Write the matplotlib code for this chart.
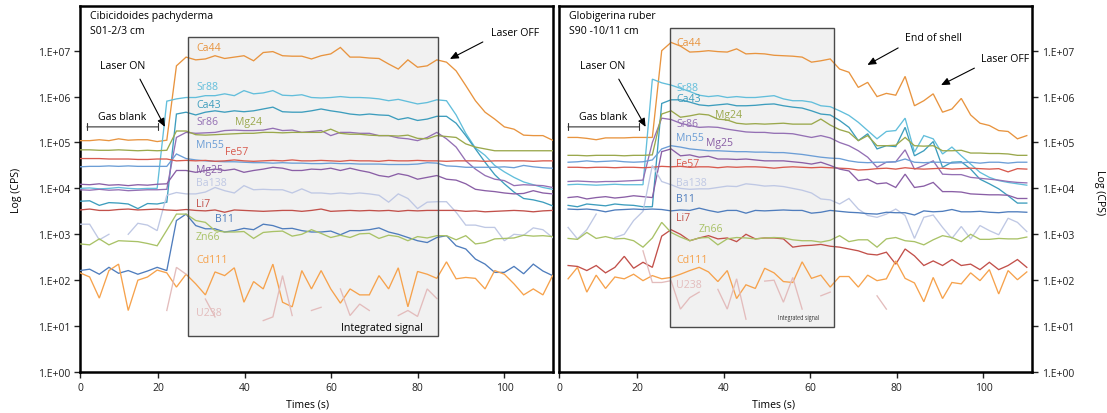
import numpy as np
import matplotlib
matplotlib.use("Agg")
import matplotlib.pyplot as plt
from matplotlib.patches import Rectangle
from matplotlib.ticker import FixedLocator, NullLocator

plt.rcParams['font.family'] = ['Open Sans', 'DejaVu Sans']

nan = np.nan

# ---------------- data (log10 of counts per second) ----------------
T_LEFT = np.linspace(2.0, 111.1, 50)     # acquisition times, left sample (s)
T_RIGHT = np.linspace(4.1, 110.0, 50)    # acquisition times, right sample (s)

# Cibicidoides pachyderma  S01-2/3 cm
L_CA44 = [5.04,5.04,5.06,5.04,5.08,5.05,5.06,5.06,5.02,5.05, 6.67,6.86,6.80,6.82,6.89,6.83,6.86,6.89,6.78,6.96,
          6.98,6.89,6.88,6.88,6.82,6.89,6.93,7.07,6.86,6.86, 6.84,6.83,6.71,6.60,6.80,6.64,6.67,6.80,6.75,6.56,
          6.24,5.91,5.66,5.51,5.34,5.29,5.16,5.15,5.15,5.05]
L_SR88 = [4.00,4.01,3.99,4.00,4.02,4.00,3.99,4.00,4.00,5.90, 5.95,5.98,5.98,6.02,6.02,6.06,6.02,6.13,6.06,6.08,
          6.13,6.03,6.02,6.04,5.98,5.97,5.98,6.00,5.98,5.98, 5.97,5.95,5.91,5.94,5.89,5.84,5.87,5.93,5.91,5.60,
          5.20,4.88,4.72,4.50,4.36,4.24,4.14,4.08,4.02,3.98]
L_CA43 = [3.72,3.73,3.63,3.69,3.68,3.66,3.56,3.67,3.66,3.70, 5.62,5.66,5.60,5.66,5.69,5.66,5.69,5.67,5.69,5.73,
          5.77,5.67,5.66,5.66,5.69,5.73,5.69,5.66,5.62,5.60, 5.62,5.60,5.59,5.50,5.54,5.48,5.51,5.57,5.57,5.42,
          5.15,4.86,4.57,4.30,4.10,3.92,3.78,3.75,3.70,3.62]
L_SR86 = [3.97,3.96,3.98,3.96,3.97,3.95,3.96,3.97,3.97,3.98, 5.11,5.22,5.20,5.21,5.22,5.26,5.27,5.26,5.26,5.27,
          5.31,5.26,5.27,5.22,5.24,5.26,5.15,5.22,5.22,5.20, 5.20,5.15,5.15,5.10,5.08,5.04,5.11,5.22,5.08,4.90,
          4.60,4.42,4.28,4.20,4.17,4.06,4.08,4.07,4.06,4.02]
L_MG24 = [4.84,4.84,4.83,4.83,4.84,4.83,4.82,4.83,4.82,4.83, 5.25,5.25,5.17,5.16,5.17,5.18,5.19,5.20,5.20,5.22,
          5.22,5.21,5.22,5.22,5.22,5.22,5.29,5.20,5.18,5.18, 5.16,5.15,5.15,5.14,5.16,5.09,5.08,5.15,5.13,5.11,
          4.97,4.90,4.86,4.82,4.82,4.82,4.82,4.82,4.82,4.82]
L_MN55 = [4.47,4.48,4.48,4.49,4.48,4.49,4.48,4.48,4.48,4.48, 4.75,4.65,4.62,4.60,4.59,4.58,4.58,4.57,4.56,4.56,
          4.55,4.56,4.55,4.55,4.54,4.54,4.55,4.54,4.54,4.53, 4.53,4.53,4.52,4.52,4.52,4.53,4.56,4.55,4.49,4.48,
          4.46,4.46,4.46,4.46,4.47,4.45,4.50,4.47,4.45,4.44]
L_FE57 = [4.65,4.65,4.65,4.64,4.64,4.64,4.63,4.63,4.64,4.64, 4.60,4.61,4.60,4.61,4.59,4.60,4.62,4.60,4.59,4.60,
          4.61,4.60,4.62,4.60,4.60,4.61,4.60,4.59,4.61,4.60, 4.60,4.59,4.61,4.60,4.60,4.61,4.60,4.60,4.59,4.60,
          4.60,4.60,4.59,4.60,4.60,4.60,4.60,4.59,4.60,4.60]
L_MG25 = [4.09,4.08,4.10,4.07,4.08,4.06,4.08,4.07,4.09,4.10, 4.39,4.39,4.35,4.39,4.42,4.39,4.42,4.35,4.39,4.42,
          4.46,4.44,4.39,4.39,4.42,4.41,4.44,4.39,4.44,4.39, 4.35,4.28,4.25,4.32,4.28,4.20,4.24,4.28,4.20,4.18,
          4.10,3.98,3.95,3.93,3.90,3.88,3.89,3.95,3.90,3.88]
L_BA138 = [3.22,3.22,2.88,3.00,nan,3.00,3.24,3.20,3.08,3.85, 3.91,3.88,3.88,3.92,4.02,3.95,3.90,4.06,3.97,3.98,
           3.97,3.97,3.90,3.99,3.90,3.90,3.88,3.90,3.88,3.90, 3.88,3.85,3.70,3.88,3.78,3.56,3.70,3.71,3.71,3.48,
           3.20,3.20,3.15,3.15,2.86,3.00,2.98,3.14,3.10,2.93]
L_LI7 = [3.53,3.55,3.52,3.52,3.54,3.55,3.53,3.54,3.55,3.53, 3.52,3.54,3.52,3.51,3.53,3.48,3.53,3.52,3.51,3.50,
         3.51,3.52,3.52,3.50,3.52,3.55,3.50,3.51,3.52,3.51, 3.52,3.51,3.52,3.50,3.52,3.51,3.52,3.52,3.52,3.52,
         3.50,3.51,3.49,3.50,3.51,3.52,3.51,3.49,3.51,3.52]
L_B11 = [2.21,2.24,2.13,2.28,2.15,2.21,2.13,2.20,2.28,2.21, 3.30,3.44,3.19,3.12,3.12,3.05,3.08,3.13,3.10,3.22,
         3.19,3.12,3.13,3.08,3.05,3.05,3.07,2.99,3.08,3.08, 3.10,3.14,3.05,3.00,2.93,2.86,2.82,2.93,2.97,2.75,
         2.68,2.46,2.35,2.17,2.17,2.30,2.14,2.35,2.20,2.10]
L_ZN66 = [2.79,2.77,2.90,2.77,2.86,2.85,2.84,2.80,2.75,3.09, 3.44,3.44,3.30,3.26,3.08,3.05,3.05,3.06,2.91,3.04,
          3.06,3.07,2.96,3.00,3.10,3.02,2.93,2.98,2.93,3.01, 3.02,2.91,2.98,2.95,2.86,2.95,2.92,2.97,2.97,2.88,
          2.97,2.79,2.82,2.90,2.91,2.92,2.98,2.96,2.97,2.95]
L_CD111 = [2.16,2.07,1.61,2.21,2.35,1.34,2.00,2.07,2.22,2.16, 1.85,2.13,1.92,1.68,2.18,2.10,2.27,1.52,1.97,1.81,
           2.35,1.52,1.42,2.21,1.81,2.21,1.81,1.50,1.81,1.68, 1.68,2.10,1.81,2.27,1.42,2.19,2.13,2.04,2.40,2.03,
           2.06,2.04,1.81,2.21,2.13,1.92,1.68,1.81,1.68,2.10]
L_U238 = [nan,nan,nan,nan,nan,nan,nan,nan,nan,1.34, 2.28,2.13,nan,1.59,1.20,nan,nan,nan,nan,1.12,
          1.20,2.10,1.23,nan,1.34,1.41,nan,1.81,1.23,1.48, 1.34,nan,nan,1.23,1.34,1.21,1.81,1.60,nan,nan,
          nan,nan,nan,nan,nan,nan,nan,nan,nan,nan]

# Globigerina ruber  S90 -10/11 cm
R_CA44 = [5.11,5.11,5.09,5.06,5.10,5.10,5.10,5.11,5.11,5.11, 7.00,7.18,7.10,6.97,6.98,7.00,6.98,6.97,7.04,6.93,
          6.94,6.93,6.90,6.89,6.88,6.86,6.75,6.78,6.82,6.60, 6.53,6.20,6.31,6.00,6.07,6.03,6.44,5.80,5.91,6.06,
          5.66,5.73,5.96,5.60,5.42,5.37,5.26,5.24,5.08,5.15]
R_SR88 = [4.08,4.09,4.08,4.07,4.08,4.09,4.08,4.08,4.08,6.38, 6.30,6.25,6.18,6.11,6.03,6.00,6.02,5.98,6.00,5.98,
          5.98,6.00,6.02,5.95,5.91,5.91,5.88,5.80,5.78,5.69, 5.59,5.44,5.26,5.08,5.24,5.26,5.53,4.79,5.15,5.08,
          4.75,4.90,4.71,4.53,4.35,4.24,4.17,4.13,4.10,4.07]
R_CA43 = [3.63,3.60,3.66,3.64,3.62,3.66,3.64,3.63,3.60,3.60, 5.85,5.93,5.93,5.88,5.82,5.80,5.82,5.84,5.80,5.80,
          5.81,5.83,5.84,5.80,5.77,5.75,5.69,5.62,5.60,5.48, 5.33,5.04,5.19,4.86,4.93,4.91,5.33,4.71,4.82,5.02,
          4.46,4.57,4.58,4.42,4.20,4.10,3.99,3.84,3.68,3.68]
R_SR86 = [4.15,4.16,4.15,4.14,4.15,4.15,4.16,4.17,4.18,5.00, 5.53,5.50,5.42,5.37,5.33,5.34,5.33,5.29,5.26,5.23,
          5.22,5.22,5.20,5.20,5.19,5.15,5.11,5.15,5.10,5.00, 4.93,4.82,4.68,4.46,4.57,4.58,4.84,4.42,4.50,4.60,
          4.31,4.30,4.30,4.24,4.22,4.20,4.18,4.15,4.13,4.12]
R_MG24 = [4.72,4.72,4.71,4.72,4.72,4.72,4.71,4.72,4.72,4.73, 5.62,5.69,5.55,5.58,5.62,5.60,5.51,5.49,5.42,5.40,
          5.41,5.40,5.41,5.42,5.40,5.40,5.40,5.51,5.38,5.28, 5.22,5.04,5.15,4.93,4.93,4.94,5.11,4.93,4.92,4.93,
          4.82,4.82,4.83,4.77,4.77,4.76,4.76,4.75,4.72,4.72]
R_MN55 = [4.57,4.58,4.60,4.58,4.59,4.60,4.58,4.57,4.58,4.62, 4.86,4.93,4.90,4.86,4.84,4.82,4.82,4.81,4.80,4.80,
          4.79,4.79,4.78,4.78,4.76,4.74,4.71,4.68,4.66,4.65, 4.60,4.57,4.56,4.57,4.57,4.58,4.64,4.57,4.56,4.57,
          4.57,4.55,4.56,4.57,4.55,4.57,4.57,4.55,4.57,4.57]
R_FE57 = [4.46,4.46,4.45,4.46,4.46,4.45,4.46,4.46,4.45,4.46, 4.48,4.47,4.48,4.46,4.47,4.47,4.45,4.47,4.46,4.47,
          4.47,4.46,4.44,4.46,4.47,4.46,4.45,4.46,4.45,4.44, 4.43,4.40,4.41,4.43,4.44,4.42,4.45,4.43,4.42,4.43,
          4.44,4.42,4.43,4.44,4.43,4.42,4.43,4.36,4.43,4.42]
R_MG25 = [3.80,3.82,3.77,3.80,3.82,3.79,3.81,3.84,3.82,3.80, 4.80,4.86,4.71,4.73,4.68,4.70,4.64,4.64,4.63,4.64,
          4.62,4.60,4.60,4.60,4.58,4.56,4.53,4.57,4.50,4.42, 4.38,4.17,4.20,4.10,4.12,4.02,4.31,4.02,4.05,4.13,
          3.93,3.93,3.92,3.88,3.87,3.86,3.86,3.85,3.78,3.78]
R_BA138 = [3.15,2.90,3.10,3.44,nan,2.93,3.00,3.30,3.50,4.50, 4.15,4.08,4.00,3.98,3.99,3.99,4.02,4.05,4.04,4.10,
           4.08,4.05,4.06,4.04,4.00,3.96,3.90,3.77,3.75,3.66, 3.78,3.55,3.41,3.37,3.44,3.55,3.41,2.91,3.37,3.42,
           3.15,2.91,3.17,2.90,3.19,3.08,2.99,3.35,3.26,3.06]
R_LI7 = [2.32,2.30,2.21,2.32,2.16,2.28,2.52,2.26,2.39,2.28, 2.96,3.10,3.00,2.86,2.92,2.97,2.90,2.92,2.84,3.00,
         2.90,2.92,2.92,2.90,2.72,2.75,2.76,2.78,2.74,2.72, 2.68,2.64,2.57,2.55,2.61,2.35,2.68,2.53,2.32,2.42,
         2.32,2.45,2.32,2.35,2.23,2.39,2.23,2.32,2.45,2.28]
R_B11 = [3.55,3.54,3.55,3.53,3.49,3.53,3.54,3.55,3.54,3.55, 3.54,3.51,3.53,3.52,3.57,3.52,3.48,3.52,3.52,3.46,
         3.52,3.51,3.52,3.53,3.52,3.52,3.46,3.48,3.52,3.50, 3.48,3.47,3.45,3.44,3.48,3.47,3.47,3.42,3.51,3.49,
         3.50,3.54,3.49,3.49,3.50,3.48,3.47,3.49,3.49,3.48]
R_ZN66 = [2.91,2.89,3.04,2.91,2.95,2.90,2.91,2.86,2.72,2.92, 3.26,3.04,2.94,2.86,2.92,2.93,2.77,2.90,2.93,2.92,
          2.90,2.92,2.93,2.92,2.88,2.86,2.86,2.83,2.87,2.97, 2.84,2.88,2.88,2.72,2.90,2.93,2.86,2.84,2.77,2.88,
          2.97,2.93,2.84,3.00,2.89,2.89,2.91,2.90,2.90,2.94]
R_CD111 = [2.03,2.28,1.74,2.11,1.82,2.07,2.03,2.13,1.99,2.10, 2.03,2.06,2.13,2.21,2.28,2.18,1.97,2.21,1.60,1.90,
           1.82,2.26,2.16,1.97,1.95,2.40,2.04,2.11,1.85,2.08, 2.08,1.85,2.11,1.99,2.03,2.42,2.04,1.94,1.53,2.06,
           1.60,1.95,1.92,2.16,1.99,2.23,1.70,2.21,2.01,2.18]
R_U238 = [nan,nan,nan,nan,nan,nan,nan,nan,2.64,1.95, 1.95,1.99,1.37,1.62,1.74,nan,1.80,1.37,2.03,1.15,
          nan,1.98,2.00,1.52,2.06,1.37,nan,1.66,1.74,nan, nan,nan,nan,1.66,1.37,nan,nan,nan,nan,nan,
          nan,nan,nan,nan,nan,nan,nan,nan,nan,nan]

ISOTOPES = ['Ca44', 'Sr88', 'Ca43', 'Sr86', 'Mg24', 'Mn55', 'Fe57', 'Mg25',
            'Ba138', 'Li7', 'B11', 'Zn66', 'Cd111', 'U238']
LEFT_SERIES = [L_CA44, L_SR88, L_CA43, L_SR86, L_MG24, L_MN55, L_FE57, L_MG25,
               L_BA138, L_LI7, L_B11, L_ZN66, L_CD111, L_U238]
RIGHT_SERIES = [R_CA44, R_SR88, R_CA43, R_SR86, R_MG24, R_MN55, R_FE57, R_MG25,
                R_BA138, R_LI7, R_B11, R_ZN66, R_CD111, R_U238]
X_TICKS = [0, 20, 40, 60, 80, 100]
Y_TICK_LABELS = ['1.E+00', '1.E+01', '1.E+02', '1.E+03', '1.E+04', '1.E+05', '1.E+06', '1.E+07']

# ---------------- styles / layout ----------------
COLORS = {
    'Ca44': '#e8943f', 'Sr88': '#62bedb', 'Ca43': '#3d9dbd', 'Sr86': '#9470b4',
    'Mg24': '#9aa84c', 'Mn55': '#6c9ed6', 'Fe57': '#d85a4e', 'Mg25': '#8a5fa6',
    'Ba138': '#bfc8e4', 'Li7': '#c2504a', 'B11': '#4f7dbd', 'Zn66': '#a9c267',
    'Cd111': '#f6a24c', 'U238': '#e3bcbc',
}
# label anchor positions (time, log10 CPS)
LEFT_LABEL_POS = {
    'Ca44': (28.8, 7.07), 'Sr88': (28.8, 6.22), 'Ca43': (28.8, 5.82), 'Sr86': (28.8, 5.45),
    'Mg24': (37.8, 5.45), 'Mn55': (28.8, 4.95), 'Fe57': (35.5, 4.80), 'Mg25': (28.8, 4.42),
    'Ba138': (28.8, 4.13), 'Li7': (28.8, 3.68), 'B11': (33.2, 3.35), 'Zn66': (28.8, 2.96),
    'Cd111': (28.8, 2.46), 'U238': (28.8, 1.29),
}
RIGHT_LABEL_POS = {
    'Ca44': (29.1, 7.17), 'Sr88': (29.1, 6.20), 'Ca43': (29.1, 5.95), 'Mg24': (38.0, 5.62),
    'Sr86': (29.1, 5.42), 'Mn55': (29.1, 5.10), 'Mg25': (35.9, 4.99), 'Fe57': (29.1, 4.55),
    'Ba138': (29.1, 4.13), 'B11': (29.1, 3.77), 'Li7': (29.1, 3.37), 'Zn66': (34.3, 3.13),
    'Cd111': (29.1, 2.44), 'U238': (29.1, 1.90),
}

W, H = 1107, 414
fig = plt.figure(figsize=(W / 100, H / 100), dpi=100)


def fx(px):
    return px / W


def fy(py):
    return 1 - py / H


ax_bottom = fy(373)
ax_height = (373 - 6.7) / H
axL = fig.add_axes([fx(80), ax_bottom, 473 / W, ax_height])
axR = fig.add_axes([fx(559), ax_bottom, 473 / W, ax_height])

YMIN, YMAX = 1.0, 10 ** 7.98
XMIN, XMAX = 2.0, 111.2


def style_axes(ax, side):
    ax.set_yscale('log')
    ax.set_xlim(XMIN, XMAX)
    ax.set_ylim(YMIN, YMAX)
    ax.yaxis.set_major_locator(FixedLocator([10.0 ** i for i in range(8)]))
    ax.yaxis.set_minor_locator(NullLocator())
    ax.set_yticklabels(Y_TICK_LABELS)
    # first tick sits on the left spine
    ax.set_xticks([XMIN] + X_TICKS[1:])
    ax.set_xticklabels([str(v) for v in X_TICKS])
    for s in ax.spines.values():
        s.set_linewidth(1.8)
        s.set_color('black')
    ax.tick_params(axis='both', direction='out', length=4, width=1, labelsize=7.5,
                   colors='#222222', pad=3)
    if side == 'right':
        ax.yaxis.tick_right()
        ax.yaxis.set_label_position('right')


style_axes(axL, 'left')
style_axes(axR, 'right')


def draw_panel(ax, t, series, label_pos, box, lab_fs):
    x0, x1, y0, y1 = box
    ax.add_patch(Rectangle((x0, y0), x1 - x0, y1 - y0, facecolor='#f1f1f1',
                           edgecolor='none', zorder=1))
    for name, vals in zip(ISOTOPES, series):
        ax.plot(t, 10 ** np.asarray(vals, dtype=float), color=COLORS[name], lw=0.95,
                zorder=3, solid_joinstyle='miter')
    ax.add_patch(Rectangle((x0, y0), x1 - x0, y1 - y0, facecolor='none',
                           edgecolor='#4a4a4a', lw=1.0, zorder=4))
    for name in ISOTOPES:
        px, py = label_pos[name]
        ax.text(px, 10 ** py, name, color=COLORS[name], fontsize=lab_fs,
                ha='left', va='center', zorder=5)


draw_panel(axL, T_LEFT, LEFT_SERIES, LEFT_LABEL_POS, (26.9, 84.6, 10 ** 0.79, 10 ** 7.30), 7.6)
draw_panel(axR, T_RIGHT, RIGHT_SERIES, RIGHT_LABEL_POS, (27.6, 65.6, 10 ** 0.99, 10 ** 7.49), 7.6)

arrow_kw = dict(arrowstyle='-|>,head_length=0.5,head_width=0.22', lw=0.8, color='black',
                shrinkA=0, shrinkB=0, mutation_scale=10)
bar_kw = dict(arrowstyle='|-|,widthA=0.25,widthB=0.25', lw=0.8, color='#333333',
              shrinkA=0, shrinkB=0, mutation_scale=10)
txt_fs = 7.6

# left panel annotations
axL.text(11.8, 10 ** 6.67, 'Laser ON', ha='center', va='center', fontsize=txt_fs)
axL.annotate('', xy=(21.6, 10 ** 5.34), xytext=(15.85, 10 ** 6.38), arrowprops=arrow_kw)
axL.text(11.8, 10 ** 5.56, 'Gas blank', ha='center', va='center', fontsize=txt_fs)
axL.annotate('', xy=(20.0, 10 ** 5.34), xytext=(3.6, 10 ** 5.34), arrowprops=bar_kw)
axL.text(102.4, 10 ** 7.39, 'Laser OFF', ha='center', va='center', fontsize=txt_fs)
axL.annotate('', xy=(87.4, 10 ** 6.82), xytext=(95.0, 10 ** 7.19), arrowprops=arrow_kw)
axL.text(71.8, 10 ** 0.98, 'Integrated signal', ha='center', va='center', fontsize=7.6, zorder=5)

# right panel annotations
axR.text(12.1, 10 ** 6.67, 'Laser ON', ha='center', va='center', fontsize=txt_fs)
axR.annotate('', xy=(22.0, 10 ** 5.34), xytext=(15.8, 10 ** 6.38), arrowprops=arrow_kw)
axR.text(12.1, 10 ** 5.56, 'Gas blank', ha='center', va='center', fontsize=txt_fs)
axR.annotate('', xy=(20.4, 10 ** 5.34), xytext=(4.07, 10 ** 5.34), arrowprops=bar_kw)
axR.text(88.4, 10 ** 7.28, 'End of shell', ha='center', va='center', fontsize=txt_fs)
axR.annotate('', xy=(73.2, 10 ** 6.69), xytext=(80.3, 10 ** 7.06), arrowprops=arrow_kw)
axR.text(104.9, 10 ** 6.84, 'Laser OFF', ha='center', va='center', fontsize=txt_fs)
axR.annotate('', xy=(90.2, 10 ** 6.25), xytext=(97.9, 10 ** 6.62), arrowprops=arrow_kw)
axR.text(57.3, 10 ** 1.18, 'Integrated signal', ha='center', va='center', fontsize=5.6,
         fontstretch='condensed', zorder=5)

# titles inside panels
fig.text(fx(90), fy(19.5), 'Cibicidoides pachyderma', fontsize=7.6, ha='left', va='baseline')
fig.text(fx(90), fy(34.5), 'S01-2/3 cm', fontsize=7.6, ha='left', va='baseline')
fig.text(fx(569), fy(19.5), 'Globigerina ruber', fontsize=7.6, ha='left', va='baseline')
fig.text(fx(569), fy(34.5), 'S90 -10/11 cm', fontsize=7.6, ha='left', va='baseline')

# axis titles
fig.text(fx(16), fy(190), 'Log (CPS)', rotation=90, fontsize=7.6, ha='center', va='center')
fig.text(fx(1099), fy(193), 'Log (CPS)', rotation=270, fontsize=7.6, ha='center', va='center')
fig.text(fx(308), fy(405), 'Times (s)', fontsize=7.6, ha='center', va='center')
fig.text(fx(774), fy(405), 'Times (s)', fontsize=7.6, ha='center', va='center')

fig.savefig('out.png', dpi=100)
